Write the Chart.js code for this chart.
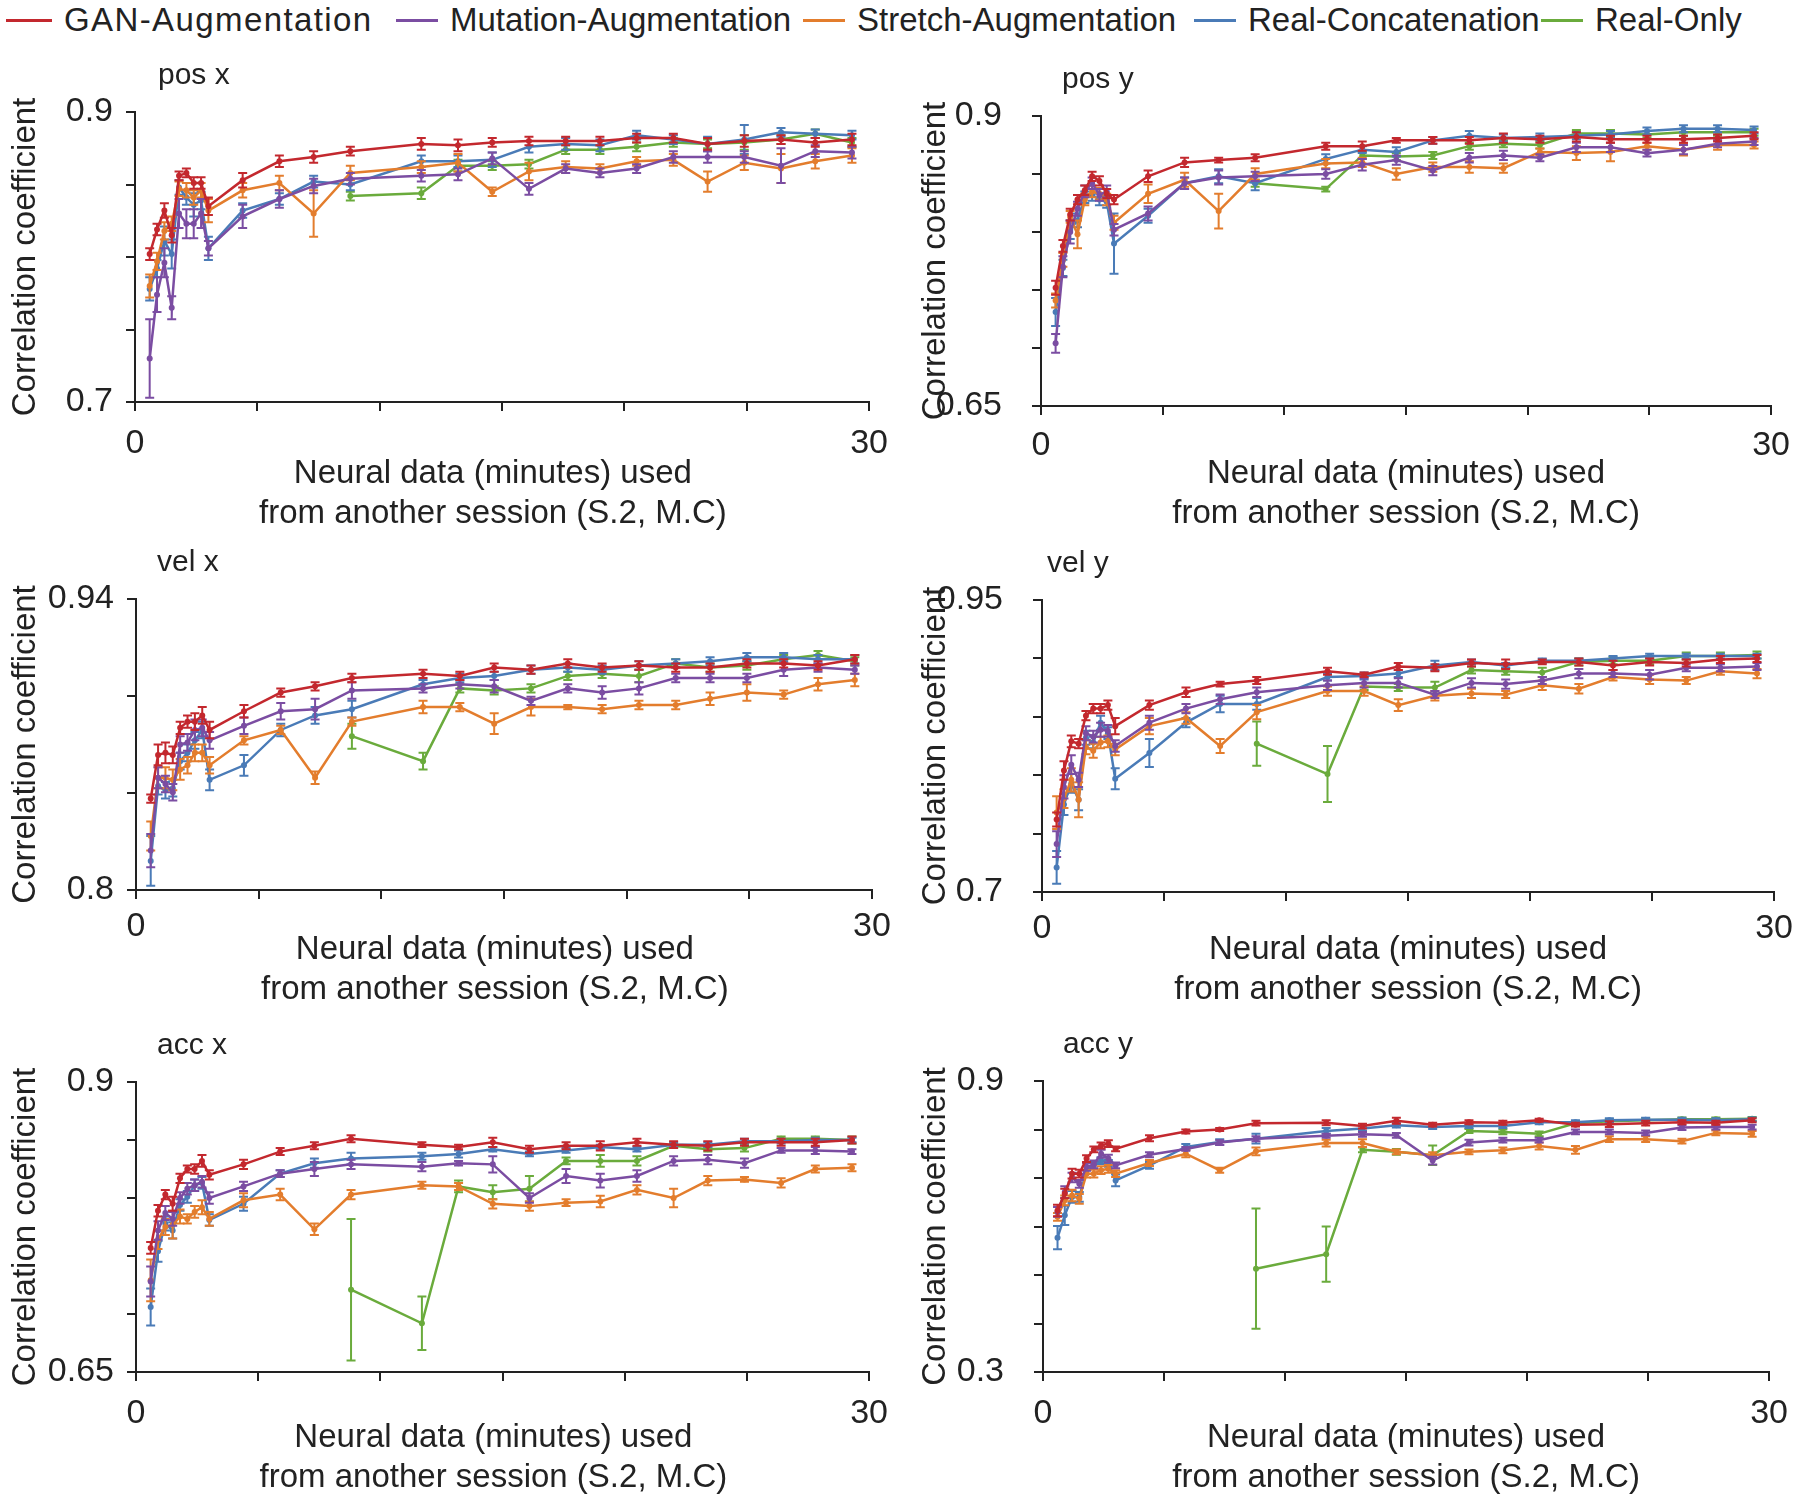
<!DOCTYPE html>
<html>
<head>
<meta charset="utf-8">
<script src="https://cdn.jsdelivr.net/npm/chart.js@4.4.0/dist/chart.umd.min.js"></script>
<style>
  html, body { margin: 0; padding: 0; background: #fff; }
  body { width: 1800px; height: 1502px; position: relative; overflow: hidden;
         font-family: "Liberation Sans", Arial, sans-serif; color: #222; }
  canvas { position: absolute; }
  .legend-item { position: absolute; top: 0; height: 40px; display: flex; align-items: center;
                 font-size: 33px; white-space: nowrap; }
  .legend-line { width: 42px; height: 3px; margin-right: 12px; }
</style>
</head>
<body>
<script>
// x positions (minutes of neural data)
const X = [0.6,0.9,1.2,1.5,1.8,2.1,2.4,2.7,3.0,4.4,5.9,7.3,8.8,11.7,13.2,14.6,16.1,17.6,19.0,20.5,22.0,23.4,24.9,26.4,27.8,29.3];
const X_REAL = [8.8,11.7,13.2,14.6,16.1,17.6,19.0,20.5,22.0,23.4,24.9,26.4,27.8,29.3];
const X_TICKS = [0,5,10,15,20,25,30];
const X_TICK_LABELS = ['0','','','','','','30'];

const SERIES_NAMES = ['GAN-Augmentation','Mutation-Augmentation','Stretch-Augmentation','Real-Concatenation','Real-Only'];
const PANEL_TITLES = ['pos x','pos y','vel x','vel y','acc x','acc y'];

// pos x
const POSX_YTICKS = [0.7,0.75,0.8,0.85,0.9];
const POSX_YLABELS = ['0.7','','','','0.9'];
const POSX_GAN = [0.802,0.819,0.832,0.815,0.856,0.858,0.851,0.851,0.835,0.853,0.866,0.869,0.873,0.878,0.877,0.879,0.880,0.880,0.880,0.882,0.882,0.878,0.880,0.881,0.879,0.881];
const POSX_GAN_ERR = [0.004,0.004,0.005,0.005,0.003,0.003,0.004,0.004,0.006,0.005,0.004,0.004,0.003,0.004,0.004,0.003,0.003,0.003,0.003,0.003,0.003,0.004,0.004,0.003,0.003,0.004];
const POSX_MUT = [0.730,0.774,0.796,0.765,0.830,0.823,0.823,0.830,0.806,0.828,0.840,0.849,0.854,0.856,0.857,0.868,0.847,0.861,0.858,0.861,0.869,0.869,0.869,0.863,0.873,0.872];
const POSX_MUT_ERR = [0.027,0.012,0.010,0.008,0.010,0.010,0.010,0.010,0.005,0.008,0.006,0.005,0.004,0.004,0.004,0.004,0.004,0.003,0.003,0.003,0.004,0.004,0.004,0.012,0.004,0.004];
const POSX_STR = [0.780,0.797,0.818,0.823,0.847,0.846,0.841,0.846,0.832,0.846,0.851,0.830,0.858,0.862,0.865,0.845,0.859,0.862,0.861,0.866,0.867,0.852,0.865,0.861,0.866,0.870];
const POSX_STR_ERR = [0.008,0.006,0.006,0.005,0.005,0.005,0.005,0.005,0.008,0.005,0.005,0.016,0.005,0.004,0.006,0.003,0.006,0.004,0.003,0.003,0.004,0.007,0.005,0.010,0.005,0.005];
const POSX_CAT = [0.778,0.792,0.811,0.802,0.848,0.841,0.836,0.839,0.806,0.832,0.840,0.852,0.850,0.866,0.866,0.867,0.876,0.878,0.877,0.884,0.881,0.878,0.881,0.886,0.885,0.884];
const POSX_CAT_ERR = [0.008,0.006,0.010,0.010,0.005,0.005,0.008,0.006,0.008,0.005,0.004,0.004,0.004,0.004,0.004,0.005,0.004,0.004,0.004,0.003,0.003,0.005,0.010,0.003,0.003,0.003];
const POSX_REAL = [0.842,0.844,0.863,0.863,0.864,0.874,0.874,0.876,0.879,0.878,0.879,0.881,0.885,0.879];
const POSX_REAL_ERR = [0.003,0.004,0.004,0.003,0.003,0.003,0.003,0.003,0.003,0.003,0.005,0.003,0.003,0.003];

// pos y
const POSY_YTICKS = [0.65,0.7,0.75,0.8,0.85,0.9];
const POSY_YLABELS = ['0.65','','','','','0.9'];
const POSY_GAN = [0.752,0.788,0.815,0.828,0.836,0.848,0.844,0.833,0.828,0.848,0.860,0.862,0.864,0.874,0.874,0.879,0.879,0.879,0.881,0.880,0.882,0.880,0.880,0.880,0.881,0.883];
const POSY_GAN_ERR = [0.006,0.005,0.005,0.004,0.004,0.004,0.004,0.004,0.004,0.005,0.004,0.002,0.003,0.003,0.004,0.002,0.003,0.003,0.004,0.003,0.004,0.003,0.003,0.003,0.003,0.003];
const POSY_MUT = [0.704,0.770,0.800,0.820,0.835,0.842,0.832,0.835,0.802,0.816,0.842,0.847,0.848,0.850,0.858,0.862,0.853,0.864,0.866,0.864,0.873,0.873,0.868,0.871,0.876,0.878];
const POSY_MUT_ERR = [0.008,0.009,0.010,0.006,0.005,0.005,0.005,0.005,0.005,0.006,0.005,0.006,0.004,0.004,0.005,0.004,0.004,0.004,0.004,0.003,0.004,0.004,0.003,0.004,0.003,0.003];
const POSY_STR = [0.741,0.776,0.813,0.798,0.828,0.835,0.833,0.828,0.808,0.833,0.845,0.818,0.850,0.859,0.860,0.850,0.856,0.856,0.855,0.869,0.868,0.869,0.874,0.871,0.875,0.875];
const POSY_STR_ERR = [0.006,0.006,0.005,0.012,0.005,0.005,0.005,0.005,0.006,0.008,0.006,0.015,0.005,0.004,0.004,0.005,0.004,0.005,0.004,0.003,0.006,0.008,0.003,0.005,0.004,0.003];
const POSY_CAT = [0.731,0.769,0.802,0.810,0.830,0.832,0.828,0.826,0.790,0.814,0.842,0.848,0.842,0.863,0.871,0.869,0.879,0.883,0.881,0.882,0.883,0.884,0.887,0.889,0.889,0.888];
const POSY_CAT_ERR = [0.012,0.007,0.008,0.006,0.005,0.005,0.005,0.005,0.026,0.006,0.005,0.006,0.006,0.004,0.003,0.004,0.003,0.004,0.003,0.003,0.003,0.003,0.003,0.003,0.003,0.003];
const POSY_REAL = [0.842,0.837,0.866,0.865,0.866,0.874,0.876,0.875,0.885,0.885,0.884,0.886,0.886,0.886];
const POSY_REAL_ERR = [0.003,0.002,0.003,0.003,0.003,0.003,0.003,0.003,0.003,0.003,0.003,0.003,0.003,0.003];

// vel x
const VELX_YTICKS = [0.8,0.84667,0.89333,0.94];
const VELX_YLABELS = ['0.8','','','0.94'];
const VELX_GAN = [0.844,0.865,0.866,0.865,0.878,0.881,0.881,0.884,0.877,0.886,0.895,0.898,0.902,0.904,0.903,0.907,0.906,0.909,0.907,0.908,0.907,0.907,0.909,0.909,0.908,0.911];
const VELX_GAN_ERR = [0.002,0.005,0.005,0.004,0.003,0.003,0.004,0.004,0.004,0.003,0.002,0.002,0.002,0.002,0.002,0.002,0.002,0.002,0.002,0.002,0.002,0.002,0.002,0.002,0.002,0.002];
const VELX_MUT = [0.819,0.854,0.851,0.847,0.870,0.871,0.877,0.878,0.872,0.879,0.886,0.887,0.896,0.897,0.899,0.898,0.891,0.897,0.895,0.897,0.902,0.902,0.902,0.906,0.907,0.906];
const VELX_MUT_ERR = [0.008,0.005,0.004,0.004,0.004,0.004,0.005,0.004,0.004,0.004,0.004,0.005,0.004,0.002,0.002,0.003,0.002,0.002,0.003,0.003,0.002,0.002,0.002,0.003,0.002,0.002];
const VELX_STR = [0.826,0.854,0.854,0.853,0.858,0.860,0.866,0.866,0.860,0.872,0.877,0.854,0.881,0.888,0.888,0.880,0.888,0.888,0.887,0.889,0.889,0.892,0.895,0.894,0.899,0.901];
const VELX_STR_ERR = [0.007,0.005,0.005,0.005,0.005,0.004,0.004,0.004,0.004,0.002,0.002,0.003,0.002,0.003,0.002,0.005,0.004,0.001,0.002,0.002,0.002,0.003,0.004,0.002,0.003,0.003];
const VELX_CAT = [0.814,0.850,0.848,0.849,0.862,0.866,0.872,0.877,0.853,0.860,0.877,0.884,0.887,0.899,0.902,0.903,0.906,0.907,0.906,0.908,0.909,0.910,0.912,0.912,0.911,0.911];
const VELX_CAT_ERR = [0.012,0.004,0.004,0.004,0.004,0.004,0.004,0.004,0.005,0.005,0.003,0.004,0.004,0.002,0.002,0.002,0.002,0.002,0.002,0.002,0.002,0.002,0.002,0.002,0.002,0.002];
const VELX_REAL = [0.874,0.862,0.897,0.896,0.897,0.903,0.904,0.903,0.909,0.907,0.908,0.911,0.913,0.910];
const VELX_REAL_ERR = [0.006,0.004,0.002,0.002,0.002,0.002,0.002,0.003,0.002,0.002,0.002,0.002,0.002,0.002];

// vel y
const VELY_YTICKS = [0.7,0.75,0.8,0.85,0.9,0.95];
const VELY_YLABELS = ['0.7','','','','','0.95'];
const VELY_GAN = [0.762,0.804,0.829,0.827,0.851,0.857,0.857,0.860,0.842,0.860,0.871,0.878,0.881,0.889,0.886,0.893,0.892,0.896,0.895,0.897,0.897,0.894,0.897,0.896,0.899,0.900];
const VELY_GAN_ERR = [0.006,0.008,0.005,0.004,0.004,0.004,0.004,0.004,0.007,0.004,0.004,0.002,0.003,0.003,0.002,0.003,0.003,0.003,0.004,0.002,0.003,0.004,0.003,0.003,0.003,0.003];
const VELY_MUT = [0.741,0.790,0.809,0.796,0.836,0.833,0.839,0.838,0.825,0.845,0.857,0.865,0.871,0.877,0.879,0.879,0.869,0.879,0.878,0.881,0.887,0.887,0.886,0.892,0.892,0.893];
const VELY_MUT_ERR = [0.011,0.010,0.008,0.006,0.006,0.005,0.006,0.005,0.005,0.006,0.004,0.004,0.004,0.004,0.004,0.004,0.003,0.004,0.004,0.003,0.004,0.003,0.004,0.003,0.003,0.003];
const VELY_STR = [0.768,0.780,0.796,0.779,0.824,0.821,0.828,0.829,0.822,0.842,0.849,0.825,0.854,0.872,0.872,0.860,0.868,0.870,0.869,0.877,0.874,0.884,0.882,0.881,0.889,0.887];
const VELY_STR_ERR = [0.014,0.008,0.010,0.015,0.006,0.006,0.005,0.005,0.005,0.007,0.005,0.006,0.006,0.004,0.004,0.005,0.004,0.004,0.003,0.004,0.004,0.003,0.004,0.003,0.003,0.004];
const VELY_CAT = [0.721,0.775,0.793,0.779,0.832,0.828,0.845,0.836,0.797,0.819,0.845,0.861,0.861,0.884,0.885,0.887,0.894,0.897,0.894,0.898,0.898,0.900,0.902,0.902,0.902,0.902];
const VELY_CAT_ERR = [0.014,0.009,0.008,0.009,0.006,0.005,0.006,0.005,0.009,0.012,0.004,0.007,0.005,0.003,0.003,0.003,0.004,0.002,0.002,0.002,0.002,0.002,0.002,0.002,0.002,0.002];
const VELY_REAL = [0.827,0.801,0.876,0.875,0.875,0.890,0.889,0.888,0.897,0.898,0.898,0.902,0.902,0.903];
const VELY_REAL_ERR = [0.019,0.024,0.003,0.003,0.005,0.003,0.003,0.004,0.003,0.003,0.003,0.003,0.003,0.003];

// acc x
const ACCX_YTICKS = [0.65,0.7,0.75,0.8,0.85,0.9];
const ACCX_YLABELS = ['0.65','','','','','0.9'];
const ACCX_GAN = [0.757,0.789,0.803,0.795,0.817,0.825,0.825,0.832,0.820,0.829,0.840,0.845,0.851,0.846,0.844,0.848,0.842,0.845,0.845,0.848,0.846,0.845,0.848,0.848,0.848,0.850];
const ACCX_GAN_ERR = [0.005,0.005,0.004,0.006,0.004,0.003,0.004,0.005,0.004,0.004,0.003,0.003,0.003,0.002,0.002,0.004,0.003,0.003,0.004,0.003,0.003,0.004,0.003,0.003,0.003,0.003];
const ACCX_MUT = [0.728,0.772,0.787,0.782,0.800,0.808,0.811,0.814,0.800,0.810,0.821,0.825,0.829,0.827,0.830,0.829,0.800,0.819,0.815,0.819,0.832,0.833,0.830,0.841,0.841,0.840];
const ACCX_MUT_ERR = [0.013,0.008,0.006,0.006,0.005,0.005,0.005,0.005,0.005,0.004,0.003,0.006,0.004,0.004,0.002,0.007,0.004,0.006,0.006,0.005,0.004,0.004,0.004,0.002,0.003,0.002];
const ACCX_STR = [0.729,0.764,0.775,0.777,0.784,0.782,0.788,0.792,0.782,0.798,0.803,0.773,0.803,0.811,0.810,0.795,0.793,0.796,0.797,0.807,0.800,0.815,0.816,0.813,0.825,0.826];
const ACCX_STR_ERR = [0.018,0.008,0.007,0.012,0.006,0.004,0.005,0.006,0.006,0.006,0.005,0.005,0.004,0.003,0.003,0.004,0.004,0.003,0.005,0.004,0.008,0.004,0.002,0.004,0.003,0.003];
const ACCX_CAT = [0.706,0.754,0.778,0.772,0.794,0.801,0.811,0.813,0.781,0.795,0.821,0.830,0.834,0.836,0.838,0.842,0.838,0.841,0.844,0.842,0.846,0.846,0.849,0.849,0.850,0.850];
const ACCX_CAT_ERR = [0.016,0.009,0.006,0.007,0.005,0.005,0.005,0.005,0.005,0.006,0.003,0.004,0.005,0.003,0.003,0.002,0.002,0.002,0.002,0.002,0.002,0.002,0.002,0.002,0.002,0.002];
const ACCX_REAL = [0.721,0.692,0.810,0.805,0.808,0.832,0.832,0.832,0.845,0.842,0.843,0.851,0.851,0.850];
const ACCX_REAL_ERR = [0.061,0.023,0.005,0.006,0.011,0.003,0.005,0.004,0.002,0.002,0.003,0.002,0.002,0.003];

// acc y
const ACCY_YTICKS = [0.3,0.4,0.5,0.6,0.7,0.8,0.9];
const ACCY_YLABELS = ['0.3','','','','','','0.9'];
const ACCY_GAN = [0.633,0.668,0.709,0.709,0.740,0.759,0.767,0.771,0.760,0.782,0.796,0.800,0.813,0.814,0.807,0.818,0.810,0.815,0.814,0.819,0.810,0.811,0.813,0.815,0.814,0.819];
const ACCY_GAN_ERR = [0.012,0.010,0.010,0.008,0.007,0.006,0.006,0.007,0.005,0.006,0.004,0.003,0.005,0.005,0.005,0.006,0.004,0.004,0.004,0.003,0.004,0.006,0.005,0.004,0.004,0.004];
const ACCY_MUT = [0.630,0.671,0.701,0.688,0.723,0.728,0.750,0.740,0.726,0.748,0.760,0.773,0.781,0.787,0.790,0.788,0.736,0.773,0.778,0.778,0.795,0.795,0.793,0.804,0.805,0.805];
const ACCY_MUT_ERR = [0.010,0.012,0.010,0.008,0.008,0.008,0.008,0.008,0.006,0.005,0.004,0.005,0.005,0.004,0.005,0.005,0.008,0.006,0.005,0.005,0.005,0.005,0.005,0.005,0.005,0.005];
const ACCY_STR = [0.620,0.654,0.664,0.657,0.709,0.709,0.716,0.719,0.709,0.731,0.750,0.716,0.755,0.772,0.772,0.754,0.747,0.754,0.757,0.766,0.758,0.780,0.780,0.776,0.793,0.791];
const ACCY_STR_ERR = [0.008,0.010,0.012,0.010,0.008,0.008,0.008,0.008,0.007,0.006,0.007,0.005,0.008,0.007,0.008,0.005,0.006,0.005,0.006,0.007,0.008,0.006,0.006,0.005,0.005,0.006];
const ACCY_CAT = [0.577,0.623,0.661,0.661,0.716,0.726,0.736,0.730,0.695,0.726,0.764,0.774,0.781,0.797,0.802,0.809,0.805,0.807,0.807,0.815,0.815,0.819,0.820,0.820,0.819,0.821];
const ACCY_CAT_ERR = [0.024,0.020,0.012,0.010,0.008,0.007,0.007,0.007,0.012,0.007,0.006,0.006,0.010,0.006,0.005,0.005,0.004,0.004,0.004,0.004,0.004,0.004,0.004,0.004,0.004,0.004];
const ACCY_REAL = [0.513,0.543,0.758,0.754,0.747,0.797,0.795,0.791,0.813,0.817,0.819,0.821,0.821,0.822];
const ACCY_REAL_ERR = [0.124,0.057,0.005,0.006,0.020,0.004,0.005,0.005,0.004,0.004,0.004,0.004,0.004,0.004];

const COLORS = ['#c3282e', '#7b4da2', '#e37d2d', '#4a7bb7', '#6aab3c'];
const INK = '#222222';
const FONT = '"Liberation Sans", Arial, sans-serif';
const X_TITLE = ['Neural data (minutes) used', 'from another session (S.2, M.C)'];

// legend (html, placed like the original)
const LEGEND_LEFT = [6, 396, 803, 1194, 1541];
SERIES_NAMES.forEach((name, i) => {
    const item = document.createElement('div');
    item.className = 'legend-item';
    item.style.left = LEGEND_LEFT[i] + 'px';
    const lineStyle = i === 0 ? 'width:46px;' : '';
    const textStyle = i === 0 ? 'letter-spacing:1.4px;' : '';
    item.innerHTML = `<div class="legend-line" style="background:${COLORS[i]};${lineStyle}"></div><span style="${textStyle}">${name}</span>`;
    document.body.appendChild(item);
});

// error bars drawn right after each dataset so stacking order is kept
const errorBarPlugin = {
    id: 'errorBars',
    afterDatasetDraw(chart, args) {
        const ds = chart.data.datasets[args.index];
        if (!ds.errors) return;
        const ctx = chart.ctx;
        const yScale = chart.scales.y;
        ctx.save();
        ctx.strokeStyle = ds.borderColor;
        ctx.lineWidth = 2;
        args.meta.data.forEach((pt, i) => {
            const v = ds.data[i].y;
            const e = ds.errors[i];
            const top = yScale.getPixelForValue(v + e);
            const bot = yScale.getPixelForValue(v - e);
            ctx.beginPath();
            ctx.moveTo(pt.x, top); ctx.lineTo(pt.x, bot);
            ctx.moveTo(pt.x - 4.5, top); ctx.lineTo(pt.x + 4.5, top);
            ctx.moveTo(pt.x - 4.5, bot); ctx.lineTo(pt.x + 4.5, bot);
            ctx.stroke();
        });
        ctx.restore();
    }
};

const panelTitlePlugin = {
    id: 'panelTitle',
    afterDraw(chart, args, opts) {
        const {ctx, chartArea} = chart;
        ctx.save();
        ctx.font = `30px ${FONT}`;
        ctx.fillStyle = INK;
        ctx.textBaseline = 'middle';
        ctx.fillText(opts.text, chartArea.left + opts.dx, chartArea.top - 36);
        ctx.restore();
    }
};

function series(xs, ys, errs, idx) {
    return {
        label: SERIES_NAMES[idx],
        data: xs.map((x, i) => ({x: x, y: ys[i]})),
        errors: errs,
        borderColor: COLORS[idx],
        backgroundColor: COLORS[idx],
        borderWidth: 2.5,
        pointRadius: 3,
        pointBorderWidth: 0,
        pointBackgroundColor: COLORS[idx],
        tension: 0,
        clip: false
    };
}

const PANELS = [
    {title: PANEL_TITLES[0], col: 0, dx: 23, area: {left: 135, right: 870, top: 112, bottom: 402}, xH: 132, tickPad: 12,
     yTicks: POSX_YTICKS, yLabels: POSX_YLABELS,
     data: [[POSX_GAN, POSX_GAN_ERR], [POSX_MUT, POSX_MUT_ERR], [POSX_STR, POSX_STR_ERR], [POSX_CAT, POSX_CAT_ERR], [POSX_REAL, POSX_REAL_ERR]]},
    {title: PANEL_TITLES[1], col: 900, dx: 21, area: {left: 1041, right: 1777, top: 116, bottom: 406}, xH: 128, tickPad: 10,
     yTicks: POSY_YTICKS, yLabels: POSY_YLABELS,
     data: [[POSY_GAN, POSY_GAN_ERR], [POSY_MUT, POSY_MUT_ERR], [POSY_STR, POSY_STR_ERR], [POSY_CAT, POSY_CAT_ERR], [POSY_REAL, POSY_REAL_ERR]]},
    {title: PANEL_TITLES[2], col: 0, dx: 21, area: {left: 136, right: 872, top: 599, bottom: 890}, xH: 120, tickPad: 7,
     yTicks: VELX_YTICKS, yLabels: VELX_YLABELS,
     data: [[VELX_GAN, VELX_GAN_ERR], [VELX_MUT, VELX_MUT_ERR], [VELX_STR, VELX_STR_ERR], [VELX_CAT, VELX_CAT_ERR], [VELX_REAL, VELX_REAL_ERR]]},
    {title: PANEL_TITLES[3], col: 900, dx: 5, area: {left: 1042, right: 1778, top: 600, bottom: 892}, xH: 118, tickPad: 7,
     yTicks: VELY_YTICKS, yLabels: VELY_YLABELS,
     data: [[VELY_GAN, VELY_GAN_ERR], [VELY_MUT, VELY_MUT_ERR], [VELY_STR, VELY_STR_ERR], [VELY_CAT, VELY_CAT_ERR], [VELY_REAL, VELY_REAL_ERR]]},
    {title: PANEL_TITLES[4], col: 0, dx: 21, area: {left: 136, right: 873, top: 1082, bottom: 1372}, xH: 126, tickPad: 12,
     yTicks: ACCX_YTICKS, yLabels: ACCX_YLABELS,
     data: [[ACCX_GAN, ACCX_GAN_ERR], [ACCX_MUT, ACCX_MUT_ERR], [ACCX_STR, ACCX_STR_ERR], [ACCX_CAT, ACCX_CAT_ERR], [ACCX_REAL, ACCX_REAL_ERR]]},
    {title: PANEL_TITLES[5], col: 900, dx: 20, area: {left: 1043, right: 1780, top: 1081, bottom: 1372}, xH: 126, tickPad: 12,
     yTicks: ACCY_YTICKS, yLabels: ACCY_YLABELS,
     data: [[ACCY_GAN, ACCY_GAN_ERR], [ACCY_MUT, ACCY_MUT_ERR], [ACCY_STR, ACCY_STR_ERR], [ACCY_CAT, ACCY_CAT_ERR], [ACCY_REAL, ACCY_REAL_ERR]]}
];

function makePanel(p) {
    const canvas = document.createElement('canvas');
    const padTop = 70;
    const padBottom = 4;
    const cTop = p.area.top - padTop;
    const cH = p.area.bottom + p.xH + padBottom - cTop;
    canvas.width = 900;
    canvas.height = cH;
    canvas.style.left = p.col + 'px';
    canvas.style.top = cTop + 'px';
    canvas.style.width = '900px';
    canvas.style.height = cH + 'px';
    document.body.appendChild(canvas);

    const datasets = p.data.map((pair, i) => series(i === 4 ? X_REAL : X, pair[0], pair[1], i));
    const yMin = p.yTicks[0];
    const yMax = p.yTicks[p.yTicks.length - 1];
    // left column titles sit a little left of the plot centre in the original
    const xTitle = p.col ? X_TITLE : X_TITLE.map(t => t + '\u00a0\u00a0');

    new Chart(canvas, {
        type: 'line',
        data: {datasets: datasets},
        plugins: [errorBarPlugin, panelTitlePlugin],
        options: {
            responsive: false,
            animation: false,
            devicePixelRatio: 1,
            events: [],
            layout: {padding: {top: padTop, bottom: padBottom, left: 0, right: p.col + 900 - p.area.right}},
            plugins: {
                legend: {display: false},
                tooltip: {enabled: false},
                panelTitle: {text: p.title, dx: p.dx}
            },
            scales: {
                x: {
                    type: 'linear',
                    min: 0,
                    max: 30,
                    afterBuildTicks: s => { s.ticks = X_TICKS.map(v => ({value: v})); },
                    afterFit: s => { s.height = p.xH; },
                    ticks: {
                        autoSkip: false,
                        maxRotation: 0,
                        padding: p.tickPad,
                        color: INK,
                        font: {family: FONT, size: 34},
                        callback: (v, i) => X_TICK_LABELS[i]
                    },
                    grid: {drawOnChartArea: false, drawTicks: true, tickLength: 9, color: INK, lineWidth: 2},
                    border: {display: true, color: INK, width: 2},
                    title: {
                        display: true,
                        text: xTitle,
                        color: INK,
                        font: {family: FONT, size: 33, lineHeight: 1.21},
                        padding: {top: 0, bottom: 0}
                    }
                },
                y: {
                    type: 'linear',
                    min: yMin,
                    max: yMax,
                    afterBuildTicks: s => { s.ticks = p.yTicks.map(v => ({value: v})); },
                    afterFit: s => { s.width = p.area.left - p.col; },
                    ticks: {
                        autoSkip: false,
                        padding: p.col ? 30 : 13,
                        color: INK,
                        font: {family: FONT, size: 34},
                        callback: (v, i) => p.yLabels[i]
                    },
                    grid: {drawOnChartArea: false, drawTicks: true, tickLength: 9, color: INK, lineWidth: 2},
                    border: {display: true, color: INK, width: 2},
                    title: {
                        display: true,
                        text: 'Correlation coefficient',
                        color: INK,
                        font: {family: FONT, size: 33, lineHeight: 1.21},
                        padding: {top: p.col ? 16 : 6, bottom: 0}
                    }
                }
            }
        }
    });
}

PANELS.forEach(makePanel);
</script>
</body>
</html>
